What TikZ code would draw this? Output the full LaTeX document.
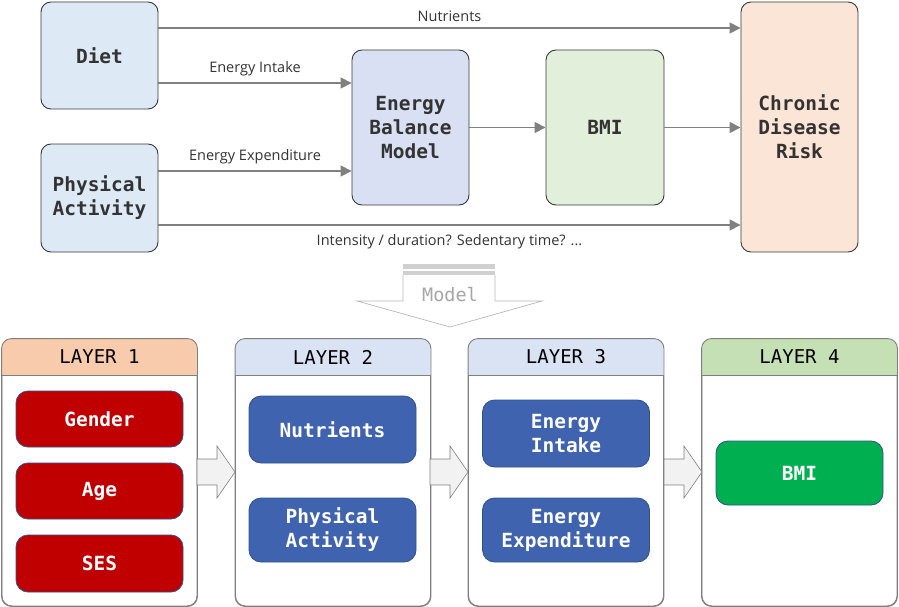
\documentclass[tikz,border=0pt]{standalone}
\usepackage{fontspec}
\setmainfont{Open Sans}
\newfontfamily\monob{DejaVu Sans Mono}
\usetikzlibrary{arrows.meta,calc}
\definecolor{topblue}{HTML}{DDE9F5}
\definecolor{ebmfill}{HTML}{DAE0F3}
\definecolor{bmifill}{HTML}{E2EFDA}
\definecolor{cdrfill}{HTML}{FBE5D6}
\definecolor{bord}{HTML}{36393D}
\definecolor{txt}{HTML}{333333}
\definecolor{arr}{HTML}{808080}
\definecolor{hpeach}{HTML}{F8CBAD}
\definecolor{hblue}{HTML}{DAE3F3}
\definecolor{hgreen}{HTML}{C5E0B4}
\definecolor{cbord}{HTML}{7F7F7F}
\definecolor{redbox}{HTML}{C00000}
\definecolor{bluebox}{HTML}{3F63AE}
\definecolor{greenbox}{HTML}{00B050}
\definecolor{ibord}{HTML}{2F528F}
\definecolor{barg}{HTML}{D0D0D0}
\definecolor{modelg}{HTML}{A6A6A6}
\definecolor{blockfill}{HTML}{F2F2F2}
\tikzset{
  topbox/.style={draw=bord, line width=0.9pt, rounded corners=10pt, align=center,
    font=\monob\bfseries\fontsize{19.5}{24}\selectfont, text=txt, inner sep=0pt},
  flow/.style={draw=arr, line width=1.6pt, -{Triangle[length=11pt,width=11pt]}},
  lbl/.style={font=\fontsize{14.5}{17}\selectfont, text=txt, inner sep=0pt},
  container/.style={draw=cbord, line width=0.9pt, rounded corners=10pt, minimum width=195pt, minimum height=267pt, inner sep=0pt},
  htext/.style={font=\monob\fontsize{19}{22}\selectfont, text=black, inner sep=0pt},
  inbox/.style={draw=ibord, line width=0.8pt, rounded corners=12pt, align=center, text=white,
    font=\monob\bfseries\fontsize{19.5}{24}\selectfont, minimum width=167pt, inner sep=0pt},
  blockarrow/.style={draw=arr, line width=0.6pt, fill=blockfill},
}
\begin{document}
\begin{tikzpicture}[x=1pt,y=-1pt]
\useasboundingbox (0,0) rectangle (899,607);
% top boxes
\node[topbox, fill=topblue, minimum width=117pt, minimum height=107pt] (diet) at (99.5,55.5) {Diet};
\node[topbox, fill=topblue, minimum width=117pt, minimum height=108pt] (pa) at (99.5,198) {Physical\\Activity};
\node[topbox, fill=ebmfill, minimum width=117pt, minimum height=155pt] (ebm) at (410.5,127.5) {Energy\\Balance\\Model};
\node[topbox, fill=bmifill, minimum width=118pt, minimum height=155pt] (bmi) at (605,127.5) {BMI};
\node[topbox, fill=cdrfill, minimum width=117pt, minimum height=250pt] (cdr) at (799.5,127) {Chronic\\Disease\\Risk};
% connectors
\draw[flow] (diet.east |- 0,28) -- (cdr.west |- 0,28) node[lbl, midway, above=6pt] {Nutrients};
\draw[flow] (diet.east |- 0,83) -- (ebm.west |- 0,83) node[lbl, midway, above=6pt] {Energy Intake};
\draw[flow] (pa.east |- 0,171) -- (ebm.west |- 0,171) node[lbl, midway, above=6pt] {Energy Expenditure};
\draw[flow] (pa.east |- 0,225) -- (cdr.west |- 0,225) node[lbl, midway, below=9pt] {Intensity / duration? Sedentary time? ...};
\draw[flow] (ebm.east) -- (bmi.west);
\draw[flow] (bmi.east) -- (cdr.west |- bmi.east);
% model arrow
\fill[barg] (403,264) rectangle (495,268.5);
\fill[barg] (403,270.5) rectangle (495,275);
\draw[draw=modelg!80, line width=0.7pt, fill=white] (403,275) -- (403,301) -- (357,301) -- (450,327) -- (542,301) -- (495,301) -- (495,275);
\node[font=\monob\fontsize{18.5}{20}\selectfont, text=modelg, inner sep=0pt] (model) at (450,295) {Model};
% layers
\node[container] (L1) at (99.5,472.5) {};
\node[container] (L2) at (333,472.5) {};
\node[container] (L3) at (566,472.5) {};
\node[container] (L4) at (799.5,472.5) {};
\foreach \L/\c in {L1/hpeach,L2/hblue,L3/hblue,L4/hgreen}{
  \begin{scope}
    \clip[rounded corners=10pt] (\L.south west) rectangle (\L.north east);
    \fill[\c] (\L.north west) rectangle ($(\L.north east)+(0,37)$);
  \end{scope}
  \draw[cbord, line width=0.9pt] ($(\L.north west)+(0,37)$) -- ($(\L.north east)+(0,37)$);
  \draw[cbord, line width=0.9pt, rounded corners=10pt] (\L.south west) rectangle (\L.north east);
}
\node[htext] (h1) at ($(L1.north)+(0,18.5)$) {LAYER 1};
\node[htext] (h2) at ($(L2.north)+(0,18.5)$) {LAYER 2};
\node[htext] (h3) at ($(L3.north)+(0,18.5)$) {LAYER 3};
\node[htext] (h4) at ($(L4.north)+(0,18.5)$) {LAYER 4};
% inner boxes
\node[inbox, fill=redbox, minimum height=56pt] (gender) at (99.5,419) {Gender};
\node[inbox, fill=redbox, minimum height=56pt] (age) at (99.5,491) {Age};
\node[inbox, fill=redbox, minimum height=57pt] (ses) at (99.5,563.5) {SES};
\node[inbox, fill=bluebox, minimum height=67pt] (nut) at (332.5,429.5) {Nutrients};
\node[inbox, fill=bluebox, minimum height=64pt] (pa2) at (332.5,530) {Physical\\Activity};
\node[inbox, fill=bluebox, minimum height=67pt] (ei) at (566,433.5) {Energy\\Intake};
\node[inbox, fill=bluebox, minimum height=64pt] (ee) at (566,530) {Energy\\Expenditure};
\node[inbox, fill=greenbox, minimum height=64pt] (bmi2) at (799.5,473) {BMI};
% block arrows
\draw[blockarrow] (197,459) -- (217,459) -- (217,446) -- (235,472) -- (217,498) -- (217,485) -- (197,485) -- cycle;
\draw[blockarrow] (430,459) -- (450,459) -- (450,446) -- (468,472) -- (450,498) -- (450,485) -- (430,485) -- cycle;
\draw[blockarrow] (664,459) -- (684,459) -- (684,446) -- (702,472) -- (684,498) -- (684,485) -- (664,485) -- cycle;
\end{tikzpicture}
\end{document}
